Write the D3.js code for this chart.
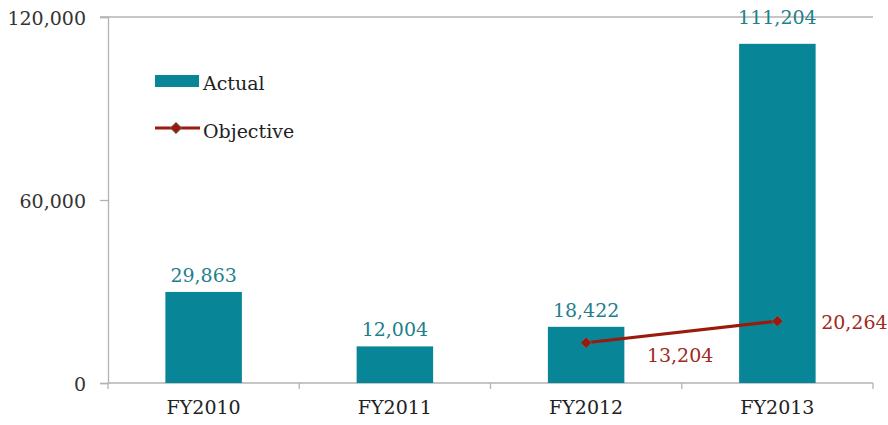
<!DOCTYPE html>
<html>
<head>
<meta charset="utf-8">
<script src="https://cdn.jsdelivr.net/npm/d3@7"></script>
<style>
  body { margin: 0; background: #fff; }
  text { font-family: "DejaVu Serif", serif; font-size: 19px; }
</style>
</head>
<body>
<div id="chart"></div>
<script>
const years = ["FY2010", "FY2011", "FY2012", "FY2013"];
const actual = [29863, 12004, 18422, 111204];
const objYears = ["FY2012", "FY2013"];
const objective = [13204, 20264];
const yTicks = [0, 60000, 120000];

const W = 888, H = 425;
const plotL = 108, plotR = 873, plotT = 17, plotB = 383;

const svg = d3.select("#chart").append("svg")
    .attr("width", W).attr("height", H);

const x = d3.scaleBand().domain(years).range([plotL, plotR]).paddingInner(0.6).paddingOuter(0.3);
const xc = d => x(d) + x.bandwidth() / 2;
const y = d3.scaleLinear().domain([0, 120000]).range([plotB, plotT]);

const fmt = d3.format(",");
const axisColor = "#b3b3b3";
const barColor = "#088596";

// top border line
svg.append("line")
    .attr("x1", plotL - 8).attr("x2", plotR)
    .attr("y1", y(120000)).attr("y2", y(120000))
    .attr("stroke", axisColor).attr("stroke-width", 1.3);

// y axis
let yAxis = svg.append("g")
    .attr("transform", `translate(${plotL},0)`)
    .call(d3.axisLeft(y).tickValues(yTicks).tickFormat(fmt).tickSize(8).tickPadding(14));
yAxis.select(".domain").attr("stroke", axisColor).attr("stroke-width", 1.3);
yAxis.selectAll(".tick line").attr("stroke", axisColor).attr("stroke-width", 1.3);
yAxis.selectAll(".tick text").attr("fill", "#333").attr("dy", "0.4em")
    .style("font-size", "19px").style("font-family", "DejaVu Serif");

// x axis, ticks sit at the band edges
const step = (plotR - plotL) / years.length;
svg.append("line")
    .attr("x1", plotL).attr("x2", plotR)
    .attr("y1", plotB).attr("y2", plotB)
    .attr("stroke", axisColor).attr("stroke-width", 1.3);
d3.range(years.length + 1).forEach(i => {
  svg.append("line")
    .attr("x1", plotL + i * step).attr("x2", plotL + i * step)
    .attr("y1", plotB).attr("y2", plotB + 6)
    .attr("stroke", axisColor).attr("stroke-width", 1.3);
});
svg.selectAll(".xlab").data(years).enter().append("text")
    .attr("class", "xlab")
    .attr("x", d => xc(d)).attr("y", 414)
    .attr("text-anchor", "middle")
    .attr("fill", "#222")
    .text(d => d);

// bars
svg.selectAll(".bar").data(actual).enter().append("rect")
    .attr("class", "bar")
    .attr("x", (d, i) => x(years[i]))
    .attr("width", x.bandwidth())
    .attr("y", d => y(d))
    .attr("height", d => plotB - y(d))
    .attr("fill", barColor);

const barLabelGap = [10, 10, 10, 20];
svg.selectAll(".blab").data(actual).enter().append("text")
    .attr("class", "blab")
    .attr("x", (d, i) => xc(years[i]))
    .attr("y", (d, i) => y(d) - barLabelGap[i])
    .attr("text-anchor", "middle")
    .attr("fill", "#1f7f8c")
    .text(d => fmt(d));

// objective line
const objColor = "#9b1a0c";
const line = d3.line().x((d, i) => xc(objYears[i])).y(d => y(d));
svg.append("path").datum(objective)
    .attr("d", line)
    .attr("fill", "none").attr("stroke", objColor).attr("stroke-width", 3.2);

const diamond = d3.symbol().type(d3.symbolSquare).size(64);
svg.selectAll(".mk").data(objective).enter().append("path")
    .attr("class", "mk")
    .attr("d", diamond)
    .attr("transform", (d, i) => `translate(${xc(objYears[i])},${y(d)}) rotate(45)`)
    .attr("fill", objColor).attr("stroke", "#3a8a93").attr("stroke-width", 0.7);

const objOffsets = [[94, 19], [77, 8]];
svg.selectAll(".olab").data(objective).enter().append("text")
    .attr("class", "olab")
    .attr("x", (d, i) => xc(objYears[i]) + objOffsets[i][0])
    .attr("y", (d, i) => y(d) + objOffsets[i][1])
    .attr("text-anchor", "middle")
    .attr("fill", "#9e2a22")
    .text(d => fmt(d));

// legend
const lg = svg.append("g");
lg.append("rect").attr("x", 155).attr("y", 75).attr("width", 44).attr("height", 12)
    .attr("fill", barColor);
lg.append("text").attr("x", 203).attr("y", 90).attr("fill", "#222").text("Actual");
lg.append("line").attr("x1", 155).attr("x2", 200).attr("y1", 128).attr("y2", 128)
    .attr("stroke", objColor).attr("stroke-width", 3.2);
lg.append("path").attr("d", diamond).attr("transform", "translate(176,128) rotate(45)")
    .attr("fill", objColor).attr("stroke", "#3a8a93").attr("stroke-width", 0.7);
lg.append("text").attr("x", 203).attr("y", 138).attr("fill", "#222").text("Objective");
</script>
</body>
</html>
